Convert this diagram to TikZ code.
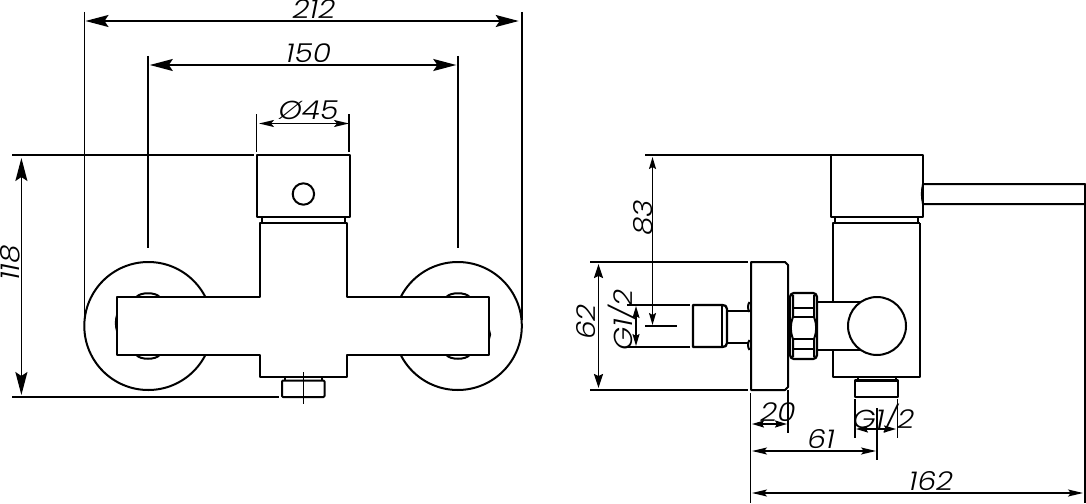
\documentclass[tikz,border=0pt]{standalone}
\usepackage{fontspec}
\setmainfont{Poppins}[ItalicFont={* Light Italic},ItalicFeatures={FakeStretch=1.14}]
\usetikzlibrary{positioning,calc,arrows.meta}
\tikzset{
    part/.style={line width=2pt, line join=round},
    extline/.style={line width=1.7pt},
    bigdim/.style={line width=1.7pt, {Stealth[length=23pt,width=12pt,inset=4pt]}-{Stealth[length=23pt,width=12pt,inset=4pt]}},
    middim/.style={line width=1.7pt, {Stealth[length=14pt,width=9pt,inset=2pt]}-{Stealth[length=14pt,width=9pt,inset=2pt]}},
    smalldim/.style={line width=1.7pt, {Stealth[length=15pt,width=7pt,inset=3pt]}-{Stealth[length=15pt,width=7pt,inset=3pt]}},
    tinydim/.style={line width=1.7pt, {Stealth[length=12pt,width=7pt,inset=2pt]}-{Stealth[length=12pt,width=7pt,inset=2pt]}},
    dimtext/.style={font=\fontsize{26}{26}\selectfont\itshape, inner sep=0pt},
}
\begin{document}
\begin{tikzpicture}[x=1pt, y=-1pt]
    \useasboundingbox (0,0) rectangle (1086,503);

    % front view
    \draw [part] (148.3,326) circle [radius=64];
    \draw [part] (457.8,326) circle [radius=64];
    \foreach \cx in {148,458} {
        \draw [part] (\cx-11.5,297) .. controls (\cx-8,292) and (\cx+8,292) .. (\cx+11.5,297);
        \draw [part] (\cx-11.5,355) .. controls (\cx-8,360) and (\cx+8,360) .. (\cx+11.5,355);
    }
    \draw [part] (117,315) .. controls (115.5,320) and (115.5,326) .. (117,331);
    \draw [part] (489,330) .. controls (490.5,333) and (490.5,336) .. (489,339);
    \draw [part, fill=white] (259.7,223) -- (259.7,297) -- (117.2,297) -- (117.2,355) -- (259.7,355) -- (259.7,376.5)
        -- (346.5,376.5) -- (346.5,355) -- (489,355) -- (489,297) -- (346.5,297) -- (346.5,223) -- cycle;
    \draw [part] (256.5,155) rectangle (349.7,217);
    \draw [part] (262,217) -- (262,223) (345,217) -- (345,223);
    \draw [part] (303.4,194) circle [radius=10.7];
    \draw [part] (284.5,376.5) -- (284.5,380) (321.7,376.5) -- (321.7,380);
    \draw [part, rounded corners=1pt] (282,380.5) rectangle (324.5,397);
    \draw [extline] (303.4,372) -- (303.4,404);

    % front view dimensions
    \coordinate (wl) at (84.5,21);
    \coordinate (wr) at (521.7,21);
    \coordinate (pl) at (148.3,65);
    \coordinate (pr) at (457.8,65);
    \coordinate (dl) at (256.5,123.5);
    \coordinate (dr) at (349,123.5);
    \coordinate (ht) at (21.4,155);
    \coordinate (hb) at (21.4,397);
    \draw [extline] (84.5,12) -- (84.5,320) (521.7,12) -- (521.7,320);
    \draw [extline] (148.3,56) -- (148.3,248) (457.8,56) -- (457.8,248);
    \draw [extline] (256.5,114) -- (256.5,152) (349,114) -- (349,152);
    \draw [extline] (12,155) -- (253.5,155) (12,397) -- (279,397);
    \draw [bigdim] ($(wl)+(1,0)$) -- ($(wr)+(-3,0)$);
    \draw [bigdim] ($(pl)+(1.5,0)$) -- ($(pr)+(-1.5,0)$);
    \draw [smalldim] ($(dl)+(2.5,0)$) -- (dr);
    \draw [bigdim] ($(ht)+(0,3)$) -- ($(hb)+(0,-2)$);
    \node [dimtext] (w212) at (314,9) {212};
    \node [dimtext] (p150) at (308.5,53) {150};
    \node [dimtext] (d45) at (308.5,110) {Ø45};
    \node [dimtext, rotate=90] (h118) at (10,263) {118};

    % side view
    \draw [part] (751,262) -- (785,262) -- (788,265) -- (788,387) -- (785,390) -- (751,390) -- cycle;
    \draw [part] (690,305) -- (627,305) (690,347) -- (627,347);
    \draw [part, line width=2.3pt] (693,305) -- (722,305) .. controls (725,305) and (727,306) .. (727,309) -- (727,343)
        .. controls (727,346) and (725,347) .. (722,347) -- (693,347) -- cycle;
    \draw [part] (722,305) -- (722,347);
    \draw [part] (727,311) -- (749,311) (727,342.5) -- (749,342.5);
    \draw [part] (749.5,302) .. controls (747.5,305) and (747.5,309) .. (749.5,312);
    \draw [part] (749.5,340) .. controls (747.5,343) and (747.5,347) .. (749.5,350);

    % nut on the wall side
    \draw [part, line width=2.3pt, rounded corners=4pt] (790,293) rectangle (817,359);
    \draw [part] (793,308) -- (814,308) (793,317) -- (814,317) (793,339) -- (814,339) (793,349) -- (814,349);
    \draw [part] (793,295) -- (793,317) .. controls (790,325) and (790,331) .. (793,339) -- (793,357);
    \draw [part] (814,295) -- (814,317) .. controls (817,325) and (817,331) .. (814,339) -- (814,357);

    % body and lever
    \draw [part] (920,223) -- (920,377) -- (833,377) -- (833,350);
    \draw [part] (833,302) -- (833,223) -- (920,223);
    \draw [part] (817,302) -- (862,302) (817,350) -- (862,350);
    \draw [part, fill=white] (877,326) circle [radius=29];
    \draw [part] (831,155) rectangle (923,217);
    \draw [part] (835,217) -- (835,223) (918,217) -- (918,223);
    \draw [part] (923,184) -- (1085,184) -- (1085,204) -- (923,204) .. controls (921.5,197) and (921.5,191) .. (923,184);
    \draw [part] (858,377) -- (858,380) (896,377) -- (896,380);
    \draw [part, line width=2.3pt] (855,380.5) rectangle (898,397);

    % side view dimensions
    \coordinate (to) at (652.5,155);
    \coordinate (cl) at (652.5,326);
    \coordinate (gt) at (636,305);
    \coordinate (gb) at (636,347);
    \draw [extline] (645,155) -- (831,155);
    \draw [extline] (645,326) -- (677,326);
    \draw [extline] (590,262) -- (748,262) (590,390) -- (748,390);
    \draw [extline] (750.5,393) -- (750.5,503) (1085,204) -- (1085,503);
    \draw [extline] (788,390) -- (788,433);
    \draw [extline] (855,399) -- (855,438) (897.5,399) -- (897.5,438);
    \draw [extline] (877,408) -- (877,460);
    \draw [tinydim] ($(to)+(0,2)$) -- ($(cl)+(0,-1)$);
    \draw [tinydim] ($(gt)+(0,1)$) -- ($(gb)+(0,-1)$);
    \draw [middim] (598.5,264) -- (598.5,388);
    \draw [tinydim] (752,424) -- (787,424);
    \draw [tinydim] (856,429) -- (896,429);
    \draw [smalldim] (752,451) -- (876,451);
    \draw [smalldim] (752,493) -- (1083,493);
    \node [dimtext, rotate=90] (h83) at (643,218) {83};
    \node [dimtext, rotate=90] (h62) at (586,322) {62};
    \node [dimtext, rotate=90] (g12v) at (622,320) {G1/2};
    \node [dimtext] (g12h) at (883.5,418) {G1/2};
    \node [dimtext] (s20) at (778,412) {20};
    \node [dimtext] (s61) at (821,439) {61};
    \node [dimtext] (s162) at (931,481) {162};
\end{tikzpicture}
\end{document}
